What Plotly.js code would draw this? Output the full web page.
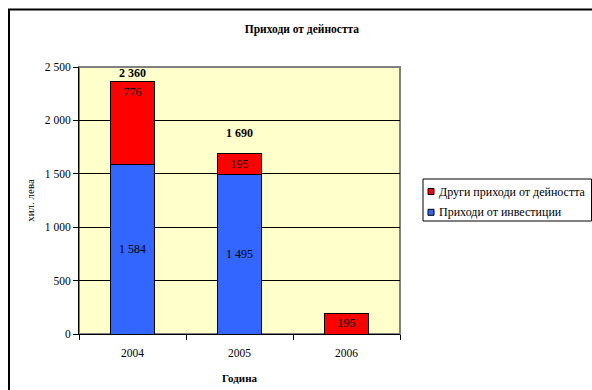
<!DOCTYPE html>
<html>
<head>
<meta charset="utf-8">
<script src="https://cdn.plot.ly/plotly-3.0.1.min.js"></script>
<style>html,body{margin:0;padding:0;background:#fff;}#chart{width:592px;height:390px;}</style>
</head>
<body>
<div id="chart"></div>
<script>
const years = ['2004', '2005', '2006'];
const investIncome = [1584, 1495, null];
const otherIncome = [776, 195, 195];
const totals = [2360, 1690, null];
const totalShift = [9, 21, 0];
const seriesNames = ['Приходи от инвестиции', 'Други приходи от дейността'];
const seriesColors = ['#3366FF', '#FF0000'];
const chartTitle = 'Приходи от дейността';
const xTitle = 'Година';
const yTitle = 'хил. лева';

function fmt(v) {
  if (v === null || v === undefined) return '';
  return String(v).replace(/\B(?=(\d{3})+(?!\d))/g, ' ');
}

const serif = 'Liberation Serif, Times New Roman, serif';

// plot area in pixels
const W = 592, H = 390, L = 79, R = 400, T = 67, B = 334;
const px = x => (x - L) / (R - L);
const py = y => (B - y) / (B - T);

const traces = [
  {
    type: 'bar', x: years, y: investIncome, name: seriesNames[0],
    marker: {color: seriesColors[0], line: {color: '#000000', width: 1}},
    text: investIncome.map(fmt), textposition: 'inside', insidetextanchor: 'middle',
    textfont: {family: serif, size: 12, color: '#000000'}, hoverinfo: 'y', showlegend: false
  },
  {
    type: 'bar', x: years, y: otherIncome, name: seriesNames[1],
    marker: {color: seriesColors[1], line: {color: '#000000', width: 1}},
    text: otherIncome.map(fmt), textposition: 'inside', insidetextanchor: 'end',
    textfont: {family: serif, size: 12, color: '#000000'}, hoverinfo: 'y', showlegend: false
  }
];

const annotations = [];
years.forEach((yr, i) => {
  if (totals[i] !== null) {
    annotations.push({
      x: i, y: totals[i], xref: 'x', yref: 'y', text: '<b>' + fmt(totals[i]) + '</b>',
      showarrow: false, yanchor: 'middle', yshift: totalShift[i],
      font: {family: serif, size: 12, color: '#000000'}
    });
  }
});

// manual legend (order: second series first)
const legendRows = [1, 0];
const legendRowY = [191.5, 212.3];
const shapes = [
  {type: 'rect', xref: 'paper', yref: 'paper', x0: 0, x1: 1, y0: 0, y1: 1,
   line: {color: '#808080', width: 2}, layer: 'below'},
  {type: 'rect', xref: 'paper', yref: 'paper', x0: px(9), x1: px(700), y0: py(600), y1: py(9.5),
   line: {color: '#000000', width: 2}, fillcolor: 'rgba(0,0,0,0)'},
  {type: 'rect', xref: 'paper', yref: 'paper', x0: px(423), x1: px(591.5), y0: py(221), y1: py(179),
   line: {color: '#000000', width: 1}, fillcolor: '#FFFFFF'}
];
legendRows.forEach((s, k) => {
  const cy = legendRowY[k];
  shapes.push({type: 'rect', xref: 'paper', yref: 'paper', x0: px(428), x1: px(434),
    y0: py(cy + 3), y1: py(cy - 3), line: {color: '#000000', width: 1}, fillcolor: seriesColors[s]});
  annotations.push({xref: 'paper', yref: 'paper', x: px(436.5), y: py(cy), xanchor: 'left', yanchor: 'middle',
    text: seriesNames[s], showarrow: false, font: {family: serif, size: 12, color: '#000000'}});
});

const layout = {
  width: W, height: H,
  margin: {l: L, r: W - R, t: T, b: H - B, pad: 0},
  paper_bgcolor: '#FFFFFF', plot_bgcolor: '#FFFFCC',
  barmode: 'stack', bargap: 0.59,
  font: {family: serif, size: 11, color: '#000000'},
  separators: ', ',
  showlegend: false,
  title: {text: '<b>' + chartTitle + '</b>', font: {family: serif, size: 11.5, color: '#000000'},
          x: 0.51, xanchor: 'center', y: 0.925, yanchor: 'middle'},
  xaxis: {
    type: 'category', range: [-0.5, years.length - 0.5], autorange: false,
    tickson: 'boundaries', ticks: 'outside', ticklen: 5, tickcolor: '#000000',
    ticklabelstandoff: 8,
    showline: true, linecolor: '#000000', linewidth: 1, showgrid: false, tickangle: 0,
    tickfont: {family: serif, size: 11.5, color: '#000000'},
    title: {text: '<b>' + xTitle + '</b>', font: {family: serif, size: 11, color: '#000000'}, standoff: 16},
    fixedrange: true
  },
  yaxis: {
    range: [0, 2500], autorange: false, dtick: 500, tick0: 0, ticks: 'outside', ticklen: 5, tickcolor: '#000000',
    showline: true, linecolor: '#000000', linewidth: 1,
    showgrid: true, gridcolor: '#000000', gridwidth: 1, zeroline: false,
    separatethousands: true, tickformat: ',d',
    tickfont: {family: serif, size: 11.5, color: '#000000'},
    title: {text: yTitle, font: {family: serif, size: 11, color: '#000000'}, standoff: 7},
    fixedrange: true
  },
  annotations: annotations,
  shapes: shapes
};

Plotly.newPlot('chart', traces, layout, {displayModeBar: false, staticPlot: true});
</script>
</body>
</html>
